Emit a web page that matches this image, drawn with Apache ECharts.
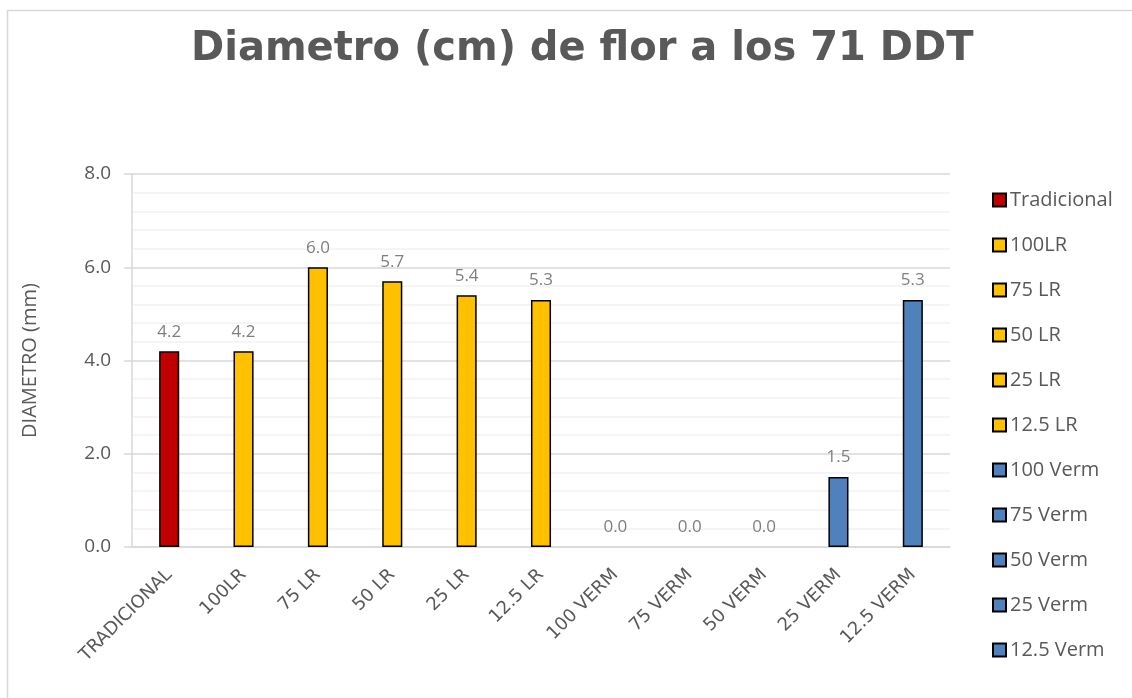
<!DOCTYPE html>
<html>
<head>
<meta charset="utf-8">
<script src="https://cdn.jsdelivr.net/npm/echarts@6/dist/echarts.min.js"></script>
<style>
html,body{margin:0;padding:0;background:#fff;}
#c{width:1132px;height:698px;}
</style>
</head>
<body>
<div id="c"></div>
<script>
const seriesNames = ['Tradicional','100LR','75 LR','50 LR','25 LR','12.5 LR','100 Verm','75 Verm','50 Verm','25 Verm','12.5 Verm'];
const categoryLabels = ['TRADICIONAL','100LR','75 LR','50 LR','25 LR','12.5 LR','100 VERM','75 VERM','50 VERM','25 VERM','12.5 VERM'];
const values = [4.2, 4.2, 6.0, 5.7, 5.4, 5.3, 0.0, 0.0, 0.0, 1.5, 5.3];
const seriesColors = ['#C00000','#FFC000','#FFC000','#FFC000','#FFC000','#FFC000','#4F81BD','#4F81BD','#4F81BD','#4F81BD','#4F81BD'];
const yTicks = [0, 2, 4, 6, 8];

const FONT = '"Open Sans", sans-serif';
const chart = echarts.init(document.getElementById('c'), null, {renderer:'canvas'});

const series = seriesNames.map((name, i) => ({
  name: name,
  type: 'bar',
  stack: 'all',
  barWidth: '27%',
  data: values.map((v, j) => {
    if (j !== i) return null;
    return v === 0 ? {value: v, itemStyle: {borderWidth: 0}} : v;
  }),
  itemStyle: {color: seriesColors[i], borderColor: '#000', borderWidth: 1.5},
  label: {
    show: true, position: 'top', distance: 11,
    color: '#7f7f7f', fontSize: 17, fontFamily: FONT,
    formatter: p => (p.value == null ? '' : Number(p.value).toFixed(1))
  }
}));

chart.setOption({
  animation: false,
  backgroundColor: '#fff',
  title: {
    text: 'Diametro (cm) de flor a los 71 DDT',
    left: 186, top: 25,
    textStyle: {fontFamily: '"DejaVu Sans", sans-serif', fontWeight: 'bold', fontSize: 40, color: '#595959'}
  },
  grid: {left: 132, right: 182, top: 174, bottom: 151, containLabel: false},
  legend: {
    orient: 'vertical', left: 987, top: 185,
    itemWidth: 13, itemHeight: 13, itemGap: 25,
    icon: 'rect',
    textStyle: {fontFamily: FONT, fontSize: 20, color: '#595959', padding: [0,0,0,-1]},
    data: seriesNames
  },
  xAxis: {
    type: 'category',
    data: categoryLabels,
    axisLine: {show: true, lineStyle: {color: '#d9d9d9', width: 1.5}},
    axisTick: {show: false},
    axisLabel: {interval: 0, rotate: 45, fontFamily: '"DejaVu Sans", sans-serif', fontSize: 18, color: '#595959', margin: 25}
  },
  yAxis: {
    type: 'value',
    min: yTicks[0], max: yTicks[yTicks.length-1], interval: 2,
    name: 'DIAMETRO (mm)', nameLocation: 'middle', nameGap: 92, nameRotate: 90,
    nameTextStyle: {fontFamily: FONT, fontSize: 20, color: '#595959'},
    axisLine: {show: true, lineStyle: {color: '#d9d9d9', width: 1.5}},
    axisTick: {show: true, inside: false, length: 8, lineStyle: {color: '#d9d9d9', width: 1.5}},
    axisLabel: {fontFamily: FONT, fontSize: 19, color: '#595959', margin: 21, formatter: v => v.toFixed(1)},
    splitLine: {show: true, lineStyle: {color: '#d9d9d9', width: 1.5}},
    minorTick: {show: false, splitNumber: 5},
    minorSplitLine: {show: true, lineStyle: {color: '#f2f2f2', width: 1.5}}
  },
  graphic: [{
    type: 'rect', silent: true, z: -1,
    shape: {x: 7.5, y: 10.5, width: 1300, height: 900},
    style: {fill: 'none', stroke: '#d9d9d9', lineWidth: 1.5}
  }],
  series: series
});
</script>
</body>
</html>
